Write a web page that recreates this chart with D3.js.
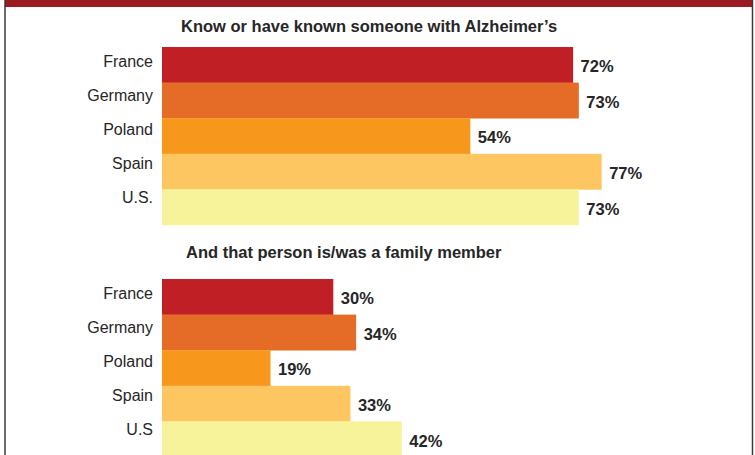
<!DOCTYPE html>
<html>
<head>
<meta charset="utf-8">
<script src="https://cdn.jsdelivr.net/npm/d3@7"></script>
<style>
	body { margin: 0; background: #fff; }
	text { font-family: 'Liberation Sans', Arial, sans-serif; fill: #262626; }
	.title { font-weight: bold; font-size: 16.5px; }
	.country { font-size: 16px; }
	.value { font-weight: bold; font-size: 16.5px; }
</style>
</head>
<body>
<script>
const COUNTRIES_KNOWN = ['France', 'Germany', 'Poland', 'Spain', 'U.S.'];
const KNOWN = [72, 73, 54, 77, 73];
const COUNTRIES_FAMILY = ['France', 'Germany', 'Poland', 'Spain', 'U.S'];
const FAMILY = [30, 34, 19, 33, 42];
const TITLES = ['Know or have known someone with Alzheimer\u2019s', 'And that person is/was a family member'];
const PALETTE = ['#c01f26', '#e56c26', '#f7981d', '#fec661', '#f6f39a'];

let svg = d3.select('body').append('svg')
	.attr('width', 755)
	.attr('height', 455);

// frame
svg.append('rect')
	.attr('x', 5).attr('y', 0)
	.attr('width', 748).attr('height', 7)
	.attr('fill', '#9a1a1f');
svg.append('line')
	.attr('x1', 5).attr('x2', 5).attr('y1', 0).attr('y2', 455)
	.attr('stroke', '#3a3a3a').attr('stroke-width', 1.5);
svg.append('line')
	.attr('x1', 752.5).attr('x2', 752.5).attr('y1', 0).attr('y2', 455)
	.attr('stroke', '#3a3a3a').attr('stroke-width', 1.5);

let x = d3.scaleLinear()
	.domain([0, 100])
	.range([162, 733]);

function panel(title, titleX, titleY, countries, values, top) {
	let y = d3.scaleBand()
		.domain(countries)
		.range([top, top + 178])
		.padding(0);
	// category labels sit a bit higher than band centres, spaced slightly tighter
	let labelY = d3.scalePoint()
		.domain(countries)
		.range([top + 20, top + 156]);

	svg.append('text')
		.attr('class', 'title')
		.attr('x', titleX)
		.attr('y', titleY)
		.text(title);

	let rows = svg.append('g').selectAll('g')
		.data(countries.map((c, i) => ({ country: c, value: values[i], color: PALETTE[i] })))
		.enter()
		.append('g');

	rows.append('rect')
		.attr('x', x(0))
		.attr('y', d => y(d.country))
		.attr('width', d => x(d.value) - x(0))
		.attr('height', y.bandwidth() + 0.3)
		.attr('fill', d => d.color);

	rows.append('text')
		.attr('class', 'country')
		.attr('x', 153)
		.attr('y', d => labelY(d.country))
		.attr('text-anchor', 'end')
		.text(d => d.country);

	rows.append('text')
		.attr('class', 'value')
		.attr('x', d => x(d.value) + 7.5)
		.attr('y', d => y(d.country) + y.bandwidth() / 2 + 7.3)
		.text(d => d.value + '%');
}

panel(TITLES[0], 181, 31.5, COUNTRIES_KNOWN, KNOWN, 47);
panel(TITLES[1], 186, 258, COUNTRIES_FAMILY, FAMILY, 279);
</script>
</body>
</html>
